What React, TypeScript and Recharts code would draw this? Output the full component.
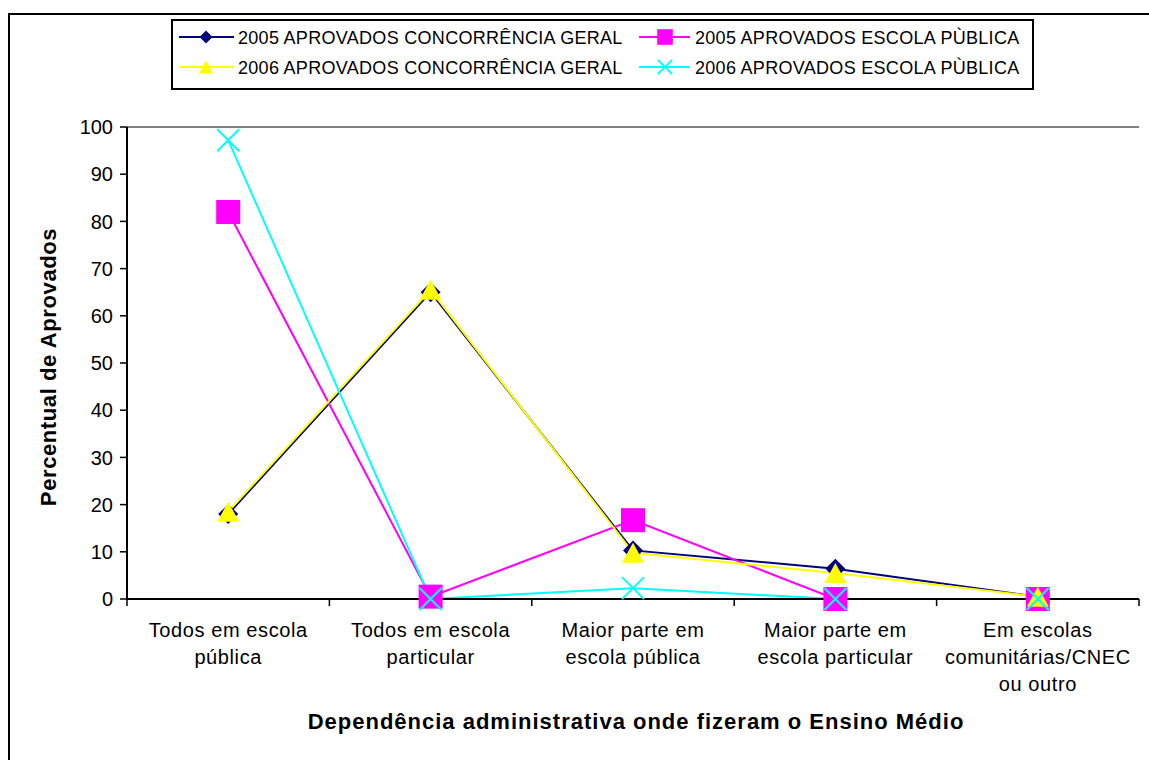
import React from "react";
import {
  LineChart,
  Line,
  XAxis,
  YAxis,
  CartesianGrid,
  ReferenceLine,
} from "recharts";

const categories = [
  "Todos em escola\npública",
  "Todos em escola\nparticular",
  "Maior parte em\nescola pública",
  "Maior parte em\nescola particular",
  "Em escolas\ncomunitárias/CNEC\nou outro",
];

const geral2005 = [18, 65, 10.3, 6.4, 0.5];
const publica2005 = [82, 0.5, 16.7, 0, 0];
const geral2006 = [18.5, 65.5, 9.8, 5.5, 0.5];
const publica2006 = [97.2, 0, 2.3, 0, 0];

const yTicks = [0, 10, 20, 30, 40, 50, 60, 70, 80, 90, 100];

const FONT = "'Liberation Sans', Arial, sans-serif";

type Marker = "diamond" | "square" | "triangle" | "cross";

const series: { key: string; name: string; color: string; marker: Marker }[] = [
  { key: "g2005", name: "2005 APROVADOS CONCORRÊNCIA GERAL", color: "#000080", marker: "diamond" },
  { key: "p2005", name: "2005 APROVADOS ESCOLA PÙBLICA", color: "#FF00FF", marker: "square" },
  { key: "g2006", name: "2006 APROVADOS CONCORRÊNCIA GERAL", color: "#FFFF00", marker: "triangle" },
  { key: "p2006", name: "2006 APROVADOS ESCOLA PÙBLICA", color: "#00FFFF", marker: "cross" },
];

const data = categories.map((cat, i) => ({
  cat,
  g2005: geral2005[i],
  p2005: publica2005[i],
  g2006: geral2006[i],
  p2006: publica2006[i],
}));

function MarkerShape({ kind, cx, cy, color, s }: { kind: Marker; cx: number; cy: number; color: string; s: number }) {
  if (kind === "diamond") {
    return (
      <polygon
        points={`${cx},${cy - s} ${cx + s},${cy} ${cx},${cy + s} ${cx - s},${cy}`}
        fill={color}
      />
    );
  }
  if (kind === "square") {
    const h = s * 1.2;
    return <rect x={cx - h} y={cy - h} width={h * 2} height={h * 2} fill={color} />;
  }
  if (kind === "triangle") {
    const w = s * 1.1;
    return (
      <polygon
        points={`${cx},${cy - s} ${cx + w},${cy + s} ${cx - w},${cy + s}`}
        fill={color}
      />
    );
  }
  const c = s * 1.1;
  return (
    <g stroke={color} strokeWidth={2}>
      <line x1={cx - c} y1={cy - c} x2={cx + c} y2={cy + c} />
      <line x1={cx - c} y1={cy + c} x2={cx + c} y2={cy - c} />
    </g>
  );
}

const makeDot = (kind: Marker, color: string) => (p: any) => {
  if (p.cx == null || p.cy == null) return <g key={`e-${p.index}`} />;
  return (
    <g key={`${kind}-${p.index}`}>
      <MarkerShape kind={kind} cx={p.cx} cy={p.cy} color={color} s={10} />
    </g>
  );
};

const CatTick = (props: any) => {
  const { x, y, payload, index } = props;
  const lines = String(payload.value).split("\n");
  const half =
    payload.offset || (props.width && props.visibleTicksCount ? props.width / props.visibleTicksCount / 2 : 0);
  return (
    <g>
      <line x1={x - half} x2={x - half} y1={y} y2={y + 7} stroke="#000" strokeWidth={1.5} />
      {index === categories.length - 1 && (
        <line x1={x + half} x2={x + half} y1={y} y2={y + 7} stroke="#000" strokeWidth={1.5} />
      )}
      <text
        x={x}
        y={y + 38}
        textAnchor="middle"
        fontFamily={FONT}
        fontSize={20}
        letterSpacing={0.6}
        fill="#000"
      >
        {lines.map((l, i) => (
          <tspan key={i} x={x} dy={i === 0 ? 0 : 27}>
            {l}
          </tspan>
        ))}
      </text>
    </g>
  );
};

function LegendBox() {
  const cols = [
    { lx1: 179, lx2: 234, mx: 206, tx: 238 },
    { lx1: 639, lx2: 690, mx: 665, tx: 695 },
  ];
  const rows = [37, 67];
  return (
    <svg
      width={1149}
      height={100}
      style={{ position: "absolute", left: 0, top: 0, pointerEvents: "none" }}
    >
      <rect x={172} y={20} width={861} height={69} fill="#fff" stroke="#000" strokeWidth={2} />
      {series.map((s, i) => {
        const c = cols[i % 2];
        const y = rows[Math.floor(i / 2)];
        return (
          <g key={s.key}>
            <line x1={c.lx1} x2={c.lx2} y1={y} y2={y} stroke={s.color} strokeWidth={2} />
            <MarkerShape kind={s.marker} cx={c.mx} cy={y} color={s.color} s={6.5} />
            <text
              x={c.tx}
              y={y + 6.5}
              fontFamily={FONT}
              fontSize={18}
              letterSpacing={0.3}
              fill="#000"
            >
              {s.name}
            </text>
          </g>
        );
      })}
    </svg>
  );
}

export default function App() {
  return (
    <div
      style={{
        position: "absolute",
        left: 0,
        top: 0,
        width: 1149,
        height: 760,
        overflow: "hidden",
        background: "#fff",
      }}
    >
      <div
        style={{
          position: "absolute",
          left: 8,
          top: 13,
          width: 1200,
          height: 800,
          border: "2px solid #000",
        }}
      />
      <div style={{ position: "absolute", left: 0, top: 0 }}>
        <LineChart
          width={1149}
          height={760}
          data={data}
          margin={{ top: 127, right: 10, bottom: 61, left: 67 }}
        >
          <CartesianGrid vertical={false} stroke="#000" strokeWidth={1.5} />
          <ReferenceLine yAxisId="left" y={100} stroke="#808080" strokeWidth={2} />
          <XAxis
            dataKey="cat"
            type="category"
            scale="band"
            interval={0}
            height={100}
            axisLine={{ stroke: "#000", strokeWidth: 2 }}
            tickLine={false}
            tickSize={0}
            tickMargin={0}
            tick={<CatTick />}
            label={{
              content: () => (
                <text
                  x={636}
                  y={729}
                  textAnchor="middle"
                  fontFamily={FONT}
                  fontSize={22}
                  fontWeight="bold"
                  letterSpacing={1}
                  fill="#000"
                >
                  Dependência administrativa onde fizeram o Ensino Médio
                </text>
              ),
            }}
          />
          <YAxis
            yAxisId="left"
            domain={[0, 100]}
            ticks={yTicks}
            interval={0}
            width={60}
            axisLine={{ stroke: "#000", strokeWidth: 2 }}
            tickLine={{ stroke: "#000", strokeWidth: 1.5 }}
            tickSize={7}
            tickMargin={7}
            tick={{ fontFamily: FONT, fontSize: 20, fill: "#000" }}
            label={{
              content: () => (
                <text
                  x={56}
                  y={367}
                  transform="rotate(-90 56 367)"
                  textAnchor="middle"
                  fontFamily={FONT}
                  fontSize={22}
                  fontWeight="bold"
                  letterSpacing={0.6}
                  fill="#000"
                >
                  Percentual de Aprovados
                </text>
              ),
            }}
          />
          <YAxis
            yAxisId="right"
            orientation="right"
            domain={[0, 100]}
            width={0}
            tick={false}
            tickLine={false}
            axisLine={{ stroke: "#808080", strokeWidth: 2 }}
          />
          {series.map((s) => (
            <Line
              key={s.key}
              yAxisId="left"
              type="linear"
              dataKey={s.key}
              name={s.name}
              stroke={s.color}
              strokeWidth={2}
              dot={makeDot(s.marker, s.color)}
              activeDot={false}
              isAnimationActive={false}
            />
          ))}
        </LineChart>
      </div>
      <LegendBox />
    </div>
  );
}
